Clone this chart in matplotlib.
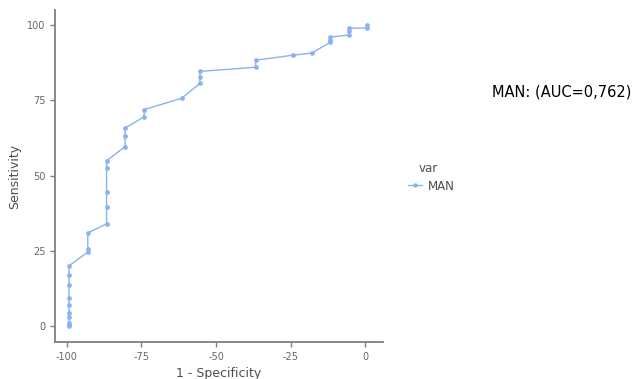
import matplotlib
matplotlib.use("Agg")
import matplotlib.pyplot as plt
from matplotlib.lines import Line2D

# ROC curve points (1 - Specificity shown as negative, Sensitivity)
fpr = [-99.3, -99.3, -99.3, -99.3, -99.3, -99.3, -99.3, -99.3, -99.3, -99.3,
       -93.0, -93.0, -93.0,
       -86.7, -86.7, -86.7, -86.7, -86.7,
       -80.5, -80.5, -80.5,
       -74.1, -74.1,
       -61.5,
       -55.4, -55.4, -55.4,
       -36.7, -36.7,
       -24.1,
       -17.9,
       -11.6, -11.6, -11.6,
       -5.4, -5.4, -5.4,
       0.8, 0.8]
sens = [0.0, 0.5, 1.0, 3.1, 4.5, 6.9, 9.2, 13.7, 16.8, 20.0,
        24.6, 25.6, 30.9,
        34.0, 39.4, 44.7, 52.6, 54.9,
        59.6, 63.3, 65.8,
        69.5, 71.9,
        75.7,
        80.6, 82.7, 84.6,
        86.0, 88.3,
        90.0,
        90.7,
        94.3, 95.2, 96.0,
        96.7, 98.0, 99.0,
        99.0, 100.0]
series_name = "MAN"
legend_title = "var"
title_text = "MAN: (AUC=0,762)"
xticks = [-100, -75, -50, -25, 0]
yticks = [0, 25, 50, 75, 100]

col = "#8ab2f2"
grey = "#4d4d4d"

fig = plt.figure(figsize=(6.33, 3.79), dpi=100)
ax = fig.add_axes([0.0869, 0.0976, 0.5181, 0.876])
ax.plot(fpr, sens, color=col, lw=1.0, marker="o", ms=2.4, mec=col, mfc=col)
ax.set_xlim(-104.0, 6.0)
ax.set_ylim(-5.3, 105)
ax.set_xticks(xticks)
ax.set_yticks(yticks)
ax.set_xticklabels([str(t) for t in xticks])
ax.set_yticklabels([str(t) for t in yticks])
for s in ["top", "right"]:
    ax.spines[s].set_visible(False)
for s in ["left", "bottom"]:
    ax.spines[s].set_color("#7f7f7f")
    ax.spines[s].set_linewidth(1.3)
ax.tick_params(colors="#7f7f7f", labelcolor="#666666", labelsize=7, length=3.5, width=1.0)
ax.set_xlabel("1 - Specificity", fontsize=9, color=grey, labelpad=3.5)
ax.set_ylabel("Sensitivity", fontsize=9, color=grey, labelpad=4)

fig.text(0.777, 0.757, title_text, fontsize=10.5, color="black", va="center")
fig.text(0.662, 0.556, legend_title, fontsize=8.5, color=grey, va="center")
h = Line2D([], [], color=col, lw=1.0, marker="o", ms=2.2)
leg = fig.legend([h], [series_name], loc="center left", bbox_to_anchor=(0.628, 0.509),
                 frameon=False, fontsize=8.5, handlelength=1.2, handletextpad=0.5)
for t in leg.get_texts():
    t.set_color(grey)

fig.savefig("out.png", dpi=100)
